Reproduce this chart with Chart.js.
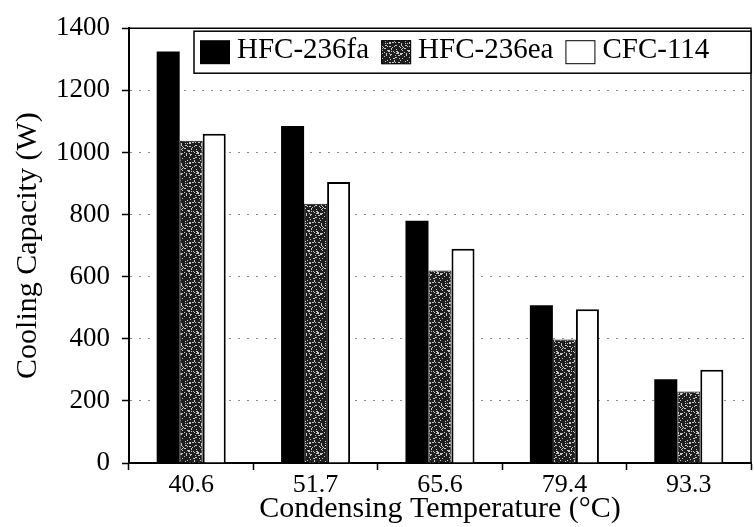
<!DOCTYPE html>
<html>
<head>
<meta charset="utf-8">
<title>Cooling Capacity</title>
<script src="https://cdn.jsdelivr.net/npm/chart.js@4.4.0/dist/chart.umd.min.js"></script>
<style>
  html, body { margin: 0; padding: 0; background: #fff; }
  #wrap { width: 754px; height: 527px; }
</style>
</head>
<body>
<div id="wrap"><canvas id="barChart" width="754" height="527"></canvas></div>
<script>
// Dados
const temperatures = ['40.6', '51.7', '65.6', '79.4', '93.3'];
const hfc236fa = [1325, 1085, 780, 508, 270];
const hfc236ea = [1038, 835, 620, 398, 230];
const cfc114 = [1060, 905, 690, 495, 300];
const yTicks = [0, 200, 400, 600, 800, 1000, 1200, 1400];

const serif = '"Liberation Serif", "Times New Roman", serif';

const canvas = document.getElementById('barChart');
const ctx = canvas.getContext('2d');

// Textura pontilhada para a HFC-236ea (padrão fixo, sem aleatório)
function speckle() {
    const n = 20;
    const c = document.createElement('canvas');
    c.width = n;
    c.height = n;
    const g = c.getContext('2d');
    g.fillStyle = '#1e1e1e';
    g.fillRect(0, 0, n, n);
    g.fillStyle = '#c8c8c8';
    for (let i = 0; i < n; i++) {
        for (let j = 0; j < n; j++) {
            const h = ((i * 73856093) ^ (j * 19349663)) >>> 0;
            if (h % 7 === 0) g.fillRect(i, j, 1, 1);
            else if (h % 23 === 1) g.fillRect(i, j, 2, 1);
        }
    }
    return ctx.createPattern(c, 'repeat');
}

// Moldura de cima e da direita
const framePlugin = {
    id: 'frame',
    afterDraw(chart) {
        const a = chart.chartArea;
        const c = chart.ctx;
        c.save();
        c.strokeStyle = '#000';
        c.lineWidth = 1.5;
        c.beginPath();
        c.moveTo(a.left, a.top);
        c.lineTo(a.right, a.top);
        c.lineTo(a.right, a.bottom);
        c.stroke();
        c.restore();
    }
};

// Legenda dentro da área do gráfico
const legendPlugin = {
    id: 'boxLegend',
    afterDraw(chart) {
        const a = chart.chartArea;
        const c = chart.ctx;
        const x0 = a.left + 65;
        const y0 = a.top + 3;
        const h = 42;
        c.save();
        c.fillStyle = '#fff';
        c.fillRect(x0, y0, a.right - x0, h);
        c.strokeStyle = '#000';
        c.lineWidth = 1.5;
        c.strokeRect(x0, y0, a.right - x0, h);
        c.font = '29px ' + serif;
        c.textBaseline = 'middle';
        let x = x0 + 6;
        const cy = y0 + h / 2;
        chart.data.datasets.forEach(ds => {
            c.fillStyle = ds.backgroundColor;
            c.fillRect(x, cy - 12, 30, 24);
            if (ds.borderWidth) {
                c.strokeStyle = '#000';
                c.lineWidth = 1;
                c.strokeRect(x + 0.5, cy - 11.5, 29, 23);
            }
            x += 37;
            c.fillStyle = '#000';
            c.fillText(ds.label, x, cy - 2);
            x += c.measureText(ds.label).width + 12;
        });
        c.restore();
    }
};

const barChart = new Chart(ctx, {
    type: 'bar',
    data: {
        labels: temperatures,
        datasets: [
            {
                label: 'HFC-236fa',
                data: hfc236fa,
                backgroundColor: '#000',
                borderWidth: 0
            },
            {
                label: 'HFC-236ea',
                data: hfc236ea,
                backgroundColor: speckle(),
                borderColor: '#111',
                borderWidth: 1
            },
            {
                label: 'CFC-114',
                data: cfc114,
                backgroundColor: '#fff',
                borderColor: '#000',
                borderWidth: 2
            }
        ]
    },
    options: {
        responsive: false,
        animation: false,
        devicePixelRatio: 1,
        categoryPercentage: 0.555,
        barPercentage: 1.0,
        layout: { padding: { top: 26, right: 3, left: 0, bottom: 0 } },
        plugins: {
            legend: { display: false },
            tooltip: { enabled: false }
        },
        scales: {
            x: {
                afterFit(scale) { scale.height = 64; },
                grid: {
                    offset: true,
                    drawOnChartArea: false,
                    tickLength: 7,
                    tickColor: '#000',
                    tickWidth: 1.5
                },
                border: { color: '#000', width: 2 },
                ticks: {
                    color: '#000',
                    padding: 0,
                    font: { family: serif, size: 26 }
                },
                title: {
                    display: true,
                    text: 'Condensing Temperature (°C)',
                    color: '#000',
                    padding: { top: -4, bottom: 0 },
                    font: { family: serif, size: 30 }
                }
            },
            y: {
                min: 0,
                max: 1400,
                afterFit(scale) { scale.width = 129; },
                afterBuildTicks(scale) {
                    scale.ticks = yTicks.map(v => ({ value: v }));
                },
                grid: {
                    color: ctx => ctx.tick && ctx.tick.value === 0 ? 'rgba(0,0,0,0)' : 'rgba(0,0,0,0.45)',
                    lineWidth: 1,
                    tickLength: 7,
                    tickColor: '#000',
                    tickWidth: 1.5
                },
                border: { color: '#000', width: 2, dash: [2, 7] },
                ticks: {
                    color: '#000',
                    padding: 12,
                    font: { family: serif, size: 27 },
                    callback: v => String(v)
                },
                title: {
                    display: true,
                    text: 'Cooling Capacity (W)',
                    color: '#000',
                    padding: { top: 10, bottom: 0 },
                    font: { family: serif, size: 30 }
                }
            }
        }
    },
    plugins: [framePlugin, legendPlugin]
});
</script>
</body>
</html>
